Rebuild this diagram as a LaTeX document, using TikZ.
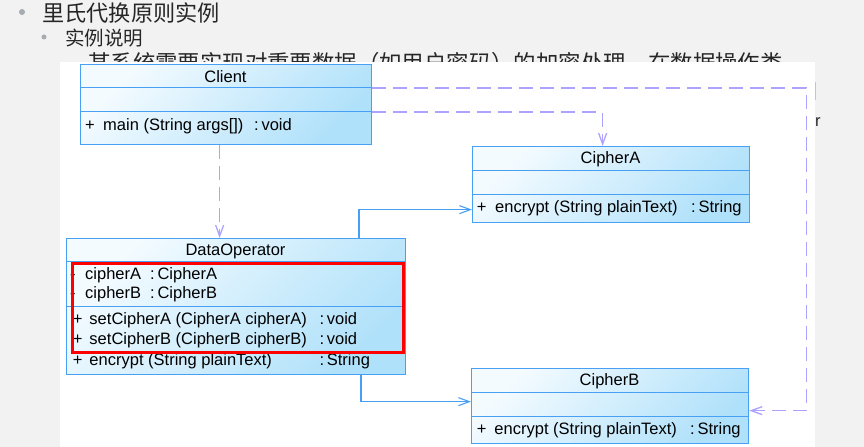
\documentclass[tikz,border=0pt]{standalone}
\usepackage{fontspec}
\setmainfont{Liberation Sans}
\newfontfamily\cjk{Noto Sans CJK SC}
\usepackage{tikz}
\usetikzlibrary{arrows.meta,positioning,calc}
\definecolor{slidegray}{RGB}{242,242,242}
\definecolor{bulletgray}{RGB}{165,172,178}
\definecolor{headgray}{RGB}{38,38,38}
\definecolor{umlline}{RGB}{72,160,245}
\definecolor{umltop}{RGB}{244,251,255}
\definecolor{umlbot}{RGB}{176,225,250}
\definecolor{deplila}{RGB}{172,162,255}
\definecolor{sliver}{RGB}{150,212,240}
\newcommand\umlfont{\fontsize{16.5bp}{19bp}\selectfont}
\newcommand\umlsign[2]{\makebox[#1bp][l]{#2}}
\tikzset{>={Straight Barb[length=11bp,width=8bp]}}
\tikzset{
  umlclass/.style={draw=umlline,line width=1.3bp,top color=umltop,bottom color=umlbot,shading angle=45,
    inner sep=0pt,anchor=north west},
  compart/.style={draw=umlline,line width=1bp},
  classname/.style={inner sep=0pt,anchor=base,font=\umlfont},
  member/.style={inner sep=0pt,anchor=base west,font=\umlfont},
  slidetext/.style={inner sep=0pt,anchor=base west,text=headgray},
  depend/.style={draw=deplila,line width=1.3bp,dash pattern=on 14bp off 7bp,->},
  assoc/.style={draw=umlline,line width=1.1bp,->},
  hilite/.style={draw=red,line width=2.6bp,inner sep=0pt,anchor=north west}
}
\begin{document}
\begin{tikzpicture}[x=1bp,y=-1bp]
  \useasboundingbox (0,0) rectangle (864,447);
  \fill[slidegray] (0,0) rectangle (864,447);
  % slide text, partly covered by the diagram
  \fill[bulletgray] (22,12) circle (3bp);
  \node[slidetext,font=\cjk\fontsize{22.2bp}{26bp}\selectfont] (topic) at (42,21.5) {里氏代换原则实例};
  \fill[bulletgray] (44,37) circle (2.5bp);
  \node[slidetext,font=\cjk\fontsize{19.5bp}{23bp}\selectfont] (subtopic) at (65,46) {实例说明};
  \node[slidetext,font=\cjk\fontsize{22.4bp}{26bp}\selectfont] (intro) at (88,72) {某系统需要实现对重要数据（如用户密码）的加密处理，在数据操作类};
  \node[member,text=headgray] (cutr) at (815,127) {r};
  \fill[white] (60,62) rectangle (815,447);
  \draw[sliver,line width=1.5bp] (815.5,82) -- (815.5,100);

  % classes
  \node[umlclass,minimum width=291bp,minimum height=80bp] (client) at (80,64) {};
  \draw[compart] ($(client.north west)+(0,24)$) -- ($(client.north east)+(0,24)$);
  \draw[compart] ($(client.north west)+(0,48)$) -- ($(client.north east)+(0,48)$);
  \node[classname] (clientname) at (225.5,82.3) {Client};
  \node[member] (clientop) at (85,131) {\umlsign{18}{+}main (String args[])};
  \node[member] (clientret) at (254,131) {:\,void};

  \node[umlclass,minimum width=277bp,minimum height=76bp] (ciphera) at (472,146) {};
  \draw[compart] ($(ciphera.north west)+(0,25)$) -- ($(ciphera.north east)+(0,25)$);
  \draw[compart] ($(ciphera.north west)+(0,49)$) -- ($(ciphera.north east)+(0,49)$);
  \node[classname] (cipheraname) at (610.5,164) {CipherA};
  \node[member] (cipheraop) at (476.7,213) {\umlsign{18.3}{+}encrypt (String plainText)};
  \node[member] (cipheraret) at (691,213) {:\,String};

  \node[umlclass,minimum width=277bp,minimum height=75bp] (cipherb) at (471,368) {};
  \draw[compart] ($(cipherb.north west)+(0,24)$) -- ($(cipherb.north east)+(0,24)$);
  \draw[compart] ($(cipherb.north west)+(0,48)$) -- ($(cipherb.north east)+(0,48)$);
  \node[classname] (cipherbname) at (609.5,385.7) {CipherB};
  \node[member] (cipherbop) at (476.7,434) {\umlsign{17.6}{+}encrypt (String plainText)};
  \node[member] (cipherbret) at (690,434) {:\,String};

  \node[umlclass,minimum width=339bp,minimum height=136bp] (dop) at (66,238) {};
  \draw[compart] ($(dop.north west)+(0,24)$) -- ($(dop.north east)+(0,24)$);
  \draw[compart] ($(dop.north west)+(0,69)$) -- ($(dop.north east)+(0,69)$);
  \node[classname] (dopname) at (235.5,256) {DataOperator};
  \node[member] (dopattra) at (70,280) {\umlsign{15}{-}cipherA};
  \node[member] (dopattraret) at (150,280) {:\,CipherA};
  \node[member] (dopattrb) at (70,299) {\umlsign{15}{-}cipherB};
  \node[member] (dopattrbret) at (150,299) {:\,CipherB};
  \node[member] (dopseta) at (72.7,325) {\umlsign{16.6}{+}setCipherA (CipherA cipherA)};
  \node[member] (dopsetaret) at (319.3,325) {:\,void};
  \node[member] (dopsetb) at (72.7,344.3) {\umlsign{16.6}{+}setCipherB (CipherB cipherB)};
  \node[member] (dopsetbret) at (319.3,344.3) {:\,void};
  \node[member] (dopenc) at (72.7,366) {\umlsign{16.6}{+}encrypt (String plainText)};
  \node[member] (dopencret) at (319.3,366) {:\,String};
  \node[hilite,minimum width=330.7bp,minimum height=88.7bp] (mark) at (71.3,262.3) {};

  % relations
  \coordinate (usedop) at ($(client.south)+(-6.5,0)$);
  \draw[depend] (usedop) -- (usedop |- dop.north);
  \draw[depend] ($(client.north east)+(0,48)$) -| ($(ciphera.north)+(-8.5,0)$);
  \draw[depend] ($(client.north east)+(0,24)$) -- ++(434,0) |- ($(cipherb.east)+(0,4.5)$);
  \draw[assoc] ($(dop.north west)+(293,0)$) |- ($(ciphera.west)+(0,25)$);
  \draw[assoc] ($(dop.south west)+(295,0)$) |- ($(cipherb.west)+(0,-4.5)$);
\end{tikzpicture}
\end{document}
